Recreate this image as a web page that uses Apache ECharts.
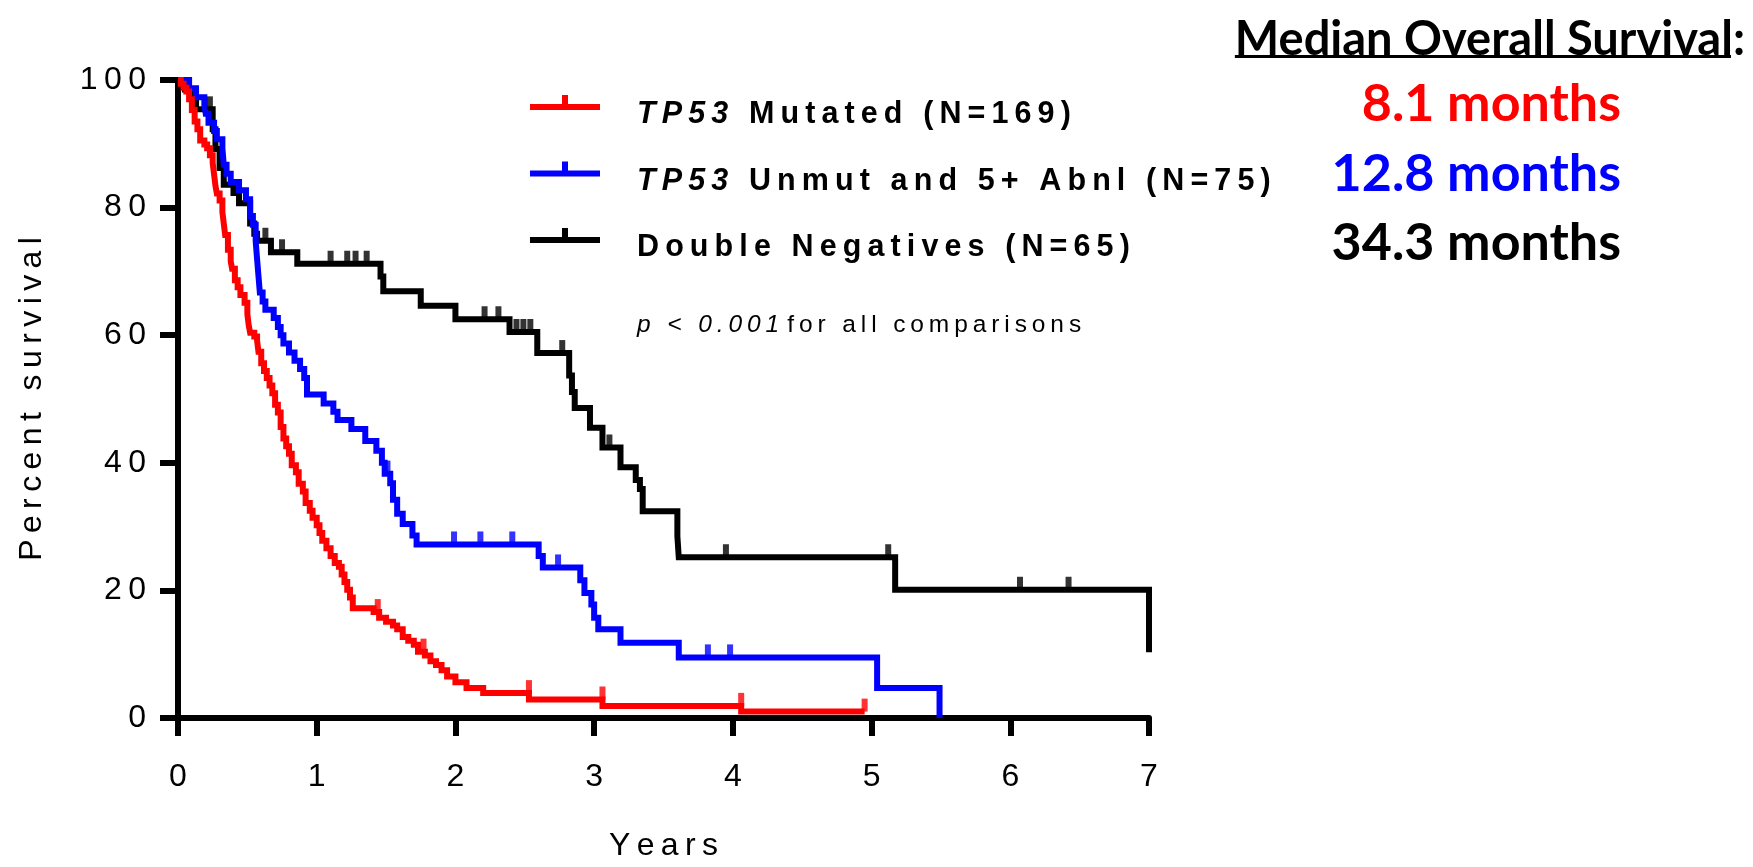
<!DOCTYPE html>
<html>
<head>
<meta charset="utf-8">
<script src="https://cdn.jsdelivr.net/npm/echarts@6/dist/echarts.min.js"></script>
<style>
  html, body { margin: 0; padding: 0; background: #fff; }
  #chart { width: 1753px; height: 867px; }
</style>
</head>
<body>
<div id="chart"></div>
<script>
// Kaplan-Meier steps: [years, percent surviving after the event]
const mutatedSteps = [
  [0,100],[0.02,99.4],[0.04,98.8],[0.06,98.2],[0.08,97.0],[0.1,95.3],[0.12,93.5],[0.14,92.3],
  [0.16,90.5],[0.19,89.9],[0.21,89.3],[0.23,88.2],[0.25,87.0],[0.26,85.2],[0.27,83.4],[0.28,82.2],
  [0.3,81.1],[0.32,79.3],[0.33,77.5],[0.34,75.7],[0.36,73.4],[0.38,71.6],[0.39,70.4],[0.41,68.6],
  [0.43,67.5],[0.45,66.3],[0.48,65.1],[0.5,63.3],[0.51,61.5],[0.52,60.4],[0.55,59.8],[0.57,59.2],
  [0.58,57.4],[0.6,55.6],[0.62,54.4],[0.64,53.3],[0.66,52.1],[0.68,50.9],[0.7,49.1],[0.72,47.9],
  [0.74,45.6],[0.76,43.8],[0.78,42.6],[0.8,41.4],[0.82,39.6],[0.85,38.5],[0.87,36.7],[0.9,35.5],
  [0.92,33.7],[0.95,32.5],[0.97,31.4],[1.0,30.2],[1.02,29.0],[1.04,27.8],[1.07,26.6],[1.1,25.4],
  [1.13,24.3],[1.16,23.7],[1.18,22.5],[1.2,21.3],[1.22,20.1],[1.24,18.9],[1.26,17.2],[1.41,16.6],
  [1.45,15.7],[1.5,15.1],[1.55,14.5],[1.58,13.9],[1.62,12.7],[1.66,12.1],[1.7,11.5],[1.73,10.4],
  [1.78,9.8],[1.82,8.9],[1.86,8.3],[1.9,7.5],[1.94,6.5],[2.0,5.6],[2.08,4.7],[2.2,3.9],
  [2.53,2.9],[3.06,1.9],[4.06,1.0],[4.95,1.0]
];
const unmutatedSteps = [
  [0,100],[0.08,98.7],[0.13,97.3],[0.19,96.0],[0.2,94.7],[0.22,93.3],[0.26,92.0],[0.28,90.7],
  [0.32,89.3],[0.33,86.7],[0.35,85.3],[0.38,84.0],[0.44,82.7],[0.49,81.3],[0.52,78.7],[0.54,77.3],
  [0.56,74.7],[0.57,72.0],[0.58,69.3],[0.59,66.7],[0.61,65.3],[0.63,64.0],[0.69,62.7],[0.72,61.3],
  [0.74,60.0],[0.76,58.7],[0.8,57.3],[0.84,56.0],[0.88,54.7],[0.91,53.3],[0.93,50.7],[1.05,49.3],
  [1.12,48.0],[1.15,46.7],[1.25,45.3],[1.35,43.4],[1.43,41.9],[1.47,40.0],[1.49,38.3],[1.53,36.8],
  [1.55,34.2],[1.58,32.0],[1.62,30.4],[1.69,28.6],[1.72,27.2],[2.6,25.4],[2.63,23.6],[2.9,21.6],
  [2.93,19.6],[2.98,17.8],[3.0,15.7],[3.03,13.9],[3.19,11.8],[3.61,9.5],[5.04,4.7],[5.49,0]
];
const doubleNegSteps = [
  [0,100],[0.05,98.5],[0.1,96.9],[0.13,95.4],[0.25,92.3],[0.27,89.2],[0.3,86.2],[0.33,83.6],
  [0.4,82.3],[0.44,80.7],[0.52,77.5],[0.55,75.9],[0.57,74.8],[0.67,73.0],[0.86,71.2],[1.46,69.2],
  [1.48,66.9],[1.75,64.6],[2.0,62.5],[2.39,60.5],[2.59,57.2],[2.82,53.7],[2.84,51.1],[2.86,48.6],
  [2.97,45.5],[3.06,42.4],[3.19,39.3],[3.3,37.3],[3.33,35.9],[3.35,32.4],[3.6,28.5],[3.61,25.2],
  [5.17,20.1],[7.0,10.3]
];

// Censoring times (years)
const mutatedCensored = [1.44, 1.77, 2.53, 3.06, 4.06, 4.95];
const unmutatedCensored = [1.51, 1.99, 2.18, 2.41, 2.74, 3.82, 3.98];
const doubleNegCensored = [0.23, 0.63, 0.75, 1.1, 1.22, 1.28, 1.36, 2.21, 2.31, 2.44, 2.49, 2.54,
  2.77, 3.11, 3.95, 5.12, 6.07, 6.42];

const groupNames = ['TP53 Mutated (N=169)', 'TP53 Unmut and 5+ Abnl (N=75)', 'Double Negatives (N=65)'];
const groupColors = ['#ff0000', '#0000ff', '#000000'];
const medianMonths = ['8.1', '12.8', '34.3'];
const xTicks = { min: 0, max: 7, step: 1 };
const yTicks = { min: 0, max: 100, step: 20 };

const ARIAL = "'Liberation Sans', Arial, sans-serif";
const CALIBRI = "Lato, 'Open Sans', sans-serif";
const SP_THIN = '\u2009';

function spaced(s, sp) { return Array.from(s).join(sp); }

// survival level in force just before time t
function levelBefore(steps, t) {
  let v = steps[0][1];
  for (const [x, y] of steps) { if (x < t) v = y; else break; }
  return v;
}

function legendLabel(name) {
  const m = name.match(/^TP53 (.*)$/);
  if (m) {
    return '{it|' + spaced('TP53', SP_THIN) + '}' + SP_THIN + ' ' + SP_THIN +
           '{b|' + spaced(m[1], SP_THIN) + '}';
  }
  return '{b|' + spaced(name, SP_THIN) + '}';
}

const stepSets = [mutatedSteps, unmutatedSteps, doubleNegSteps];
const censorSets = [mutatedCensored, unmutatedCensored, doubleNegCensored];

const lineSeries = [];
const censorSeries = [];
// black first, red last (on top)
[2, 1, 0].forEach(i => {
  lineSeries.push({
    name: groupNames[i],
    type: 'line',
    step: 'end',
    data: stepSets[i],
    symbol: 'none',
    clip: false,
    color: groupColors[i],
    lineStyle: { color: groupColors[i], width: 6, join: 'miter' },
    z: 3 + (2 - i)
  });
  censorSeries.push({
    name: groupNames[i] + ' censored',
    type: 'scatter',
    data: censorSets[i].map(t => [t, levelBefore(stepSets[i], t)]),
    symbol: 'rect',
    symbolSize: [6, 13],
    symbolOffset: [0, -6.5],
    clip: false,
    itemStyle: { color: groupColors[i] },
    silent: true,
    z: 6
  });
});

const chart = echarts.init(document.getElementById('chart'), null, { renderer: 'canvas' });

// header width for the underline
const measureCtx = document.createElement('canvas').getContext('2d');
const headerText = 'Median Overall Survival:';
const headerFont = 47;
measureCtx.font = 'bold ' + headerFont + 'px Lato';
const headerWidth = measureCtx.measureText(headerText).width;
const headerRight = 1745;

const legendFont = 30.5;
const legendRich = {
  it: { fontFamily: ARIAL, fontWeight: 'bold', fontStyle: 'italic', fontSize: legendFont, lineHeight: 30, color: '#000' },
  b: { fontFamily: ARIAL, fontWeight: 'bold', fontSize: legendFont, lineHeight: 30, color: '#000' }
};

const graphics = [
  {
    type: 'text', x: 637, y: 325,
    style: {
      text: '{i|' + spaced('p < 0.001', SP_THIN) + '}' + SP_THIN + ' ' + SP_THIN +
            '{r|' + spaced('for all comparisons', SP_THIN) + '}',
      align: 'left', verticalAlign: 'middle',
      rich: {
        i: { fontFamily: ARIAL, fontStyle: 'italic', fontSize: 24.5, color: '#000' },
        r: { fontFamily: ARIAL, fontSize: 24.5, color: '#000' }
      }
    }
  },
  {
    type: 'text', x: headerRight, y: 40,
    style: {
      text: headerText, align: 'right', verticalAlign: 'middle',
      font: 'bold ' + headerFont + 'px ' + CALIBRI, fill: '#000'
    }
  },
  {
    type: 'rect',
    shape: { x: headerRight - headerWidth, y: 55, width: headerWidth - 14, height: 3 },
    style: { fill: '#000' }
  }
];
const monthY = [104, 174, 243];
medianMonths.forEach((m, i) => {
  graphics.push({
    type: 'text', x: 1621, y: monthY[i],
    style: {
      text: m + ' months', align: 'right', verticalAlign: 'middle',
      font: 'bold 52px ' + CALIBRI, fill: groupColors[i]
    }
  });
});

const axisCommon = {
  type: 'value',
  axisLine: { show: true, lineStyle: { color: '#000', width: 6 } },
  axisTick: { show: true, length: 18, lineStyle: { color: '#000', width: 6 } },
  splitLine: { show: false },
  nameLocation: 'middle',
  nameTextStyle: { fontFamily: ARIAL, fontSize: 32, color: '#000' }
};

chart.setOption({
  animation: false,
  backgroundColor: '#fff',
  grid: { left: 178, right: 604, top: 80, bottom: 139 },
  xAxis: Object.assign({}, axisCommon, {
    min: xTicks.min, max: xTicks.max, interval: xTicks.step,
    axisLabel: { fontFamily: ARIAL, fontSize: 32, color: '#000', margin: 43 },
    name: spaced('Years', SP_THIN),
    nameGap: 112
  }),
  yAxis: Object.assign({}, axisCommon, {
    min: yTicks.min, max: yTicks.max, interval: yTicks.step,
    axisLabel: {
      fontFamily: ARIAL, fontSize: 32, color: '#000', margin: 32,
      formatter: v => spaced(String(v), SP_THIN)
    },
    name: spaced('Percent survival', SP_THIN),
    nameGap: 130
  }),
  legend: {
    orient: 'vertical',
    left: 530, top: 75, padding: 0,
    itemWidth: 70, itemHeight: 15, itemGap: 11,
    selectedMode: false,
    icon: 'path://M0,9L70,9L70,15L0,15Z M32,0L38,0L38,9L32,9Z',
    itemStyle: { borderWidth: 0 },
    data: groupNames,
    formatter: legendLabel,
    textStyle: {
      fontFamily: ARIAL, fontWeight: 'bold', fontSize: legendFont, lineHeight: 30, color: '#000',
      padding: [25, 0, 0, 32],
      rich: legendRich
    }
  },
  graphic: graphics,
  series: lineSeries.concat(censorSeries)
});
</script>
</body>
</html>
